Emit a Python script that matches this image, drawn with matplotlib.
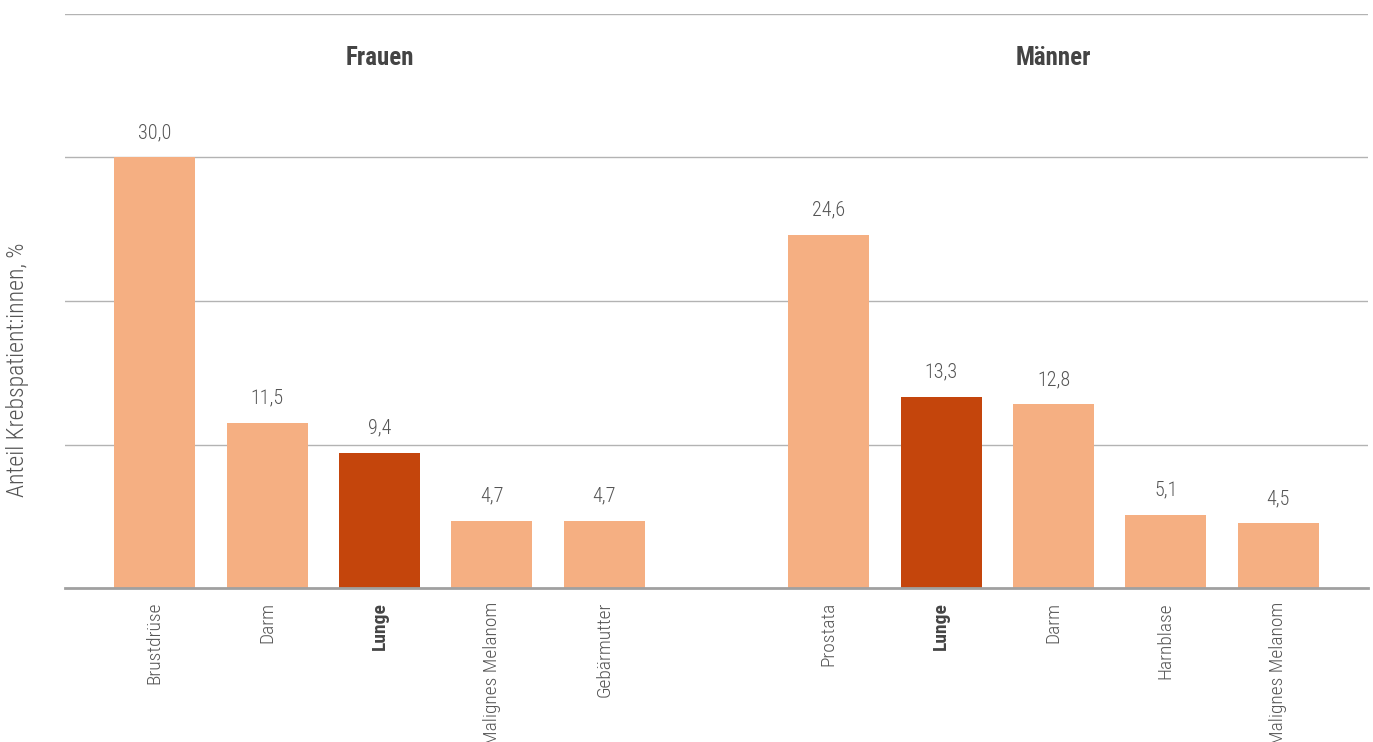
import matplotlib.pyplot as plt
from matplotlib import font_manager

# Daten
frauen_labels = ['Brustdrüse', 'Darm', 'Lunge', 'Malignes Melanom', 'Gebärmutter']
frauen_values = [30.0, 11.5, 9.4, 4.7, 4.7]
maenner_labels = ['Prostata', 'Lunge', 'Darm', 'Harnblase', 'Malignes Melanom']
maenner_values = [24.6, 13.3, 12.8, 5.1, 4.5]
group_titles = ['Frauen', 'Männer']

light = '#F5AF82'
dark = '#C4450C'
text_col = '#555555'

names = {f.name for f in font_manager.fontManager.ttflist}
if 'Roboto Condensed' in names:
    family = ['Roboto Condensed', 'DejaVu Sans']
elif 'Liberation Sans Narrow' in names:
    family = ['Liberation Sans Narrow', 'DejaVu Sans']
else:
    family = ['Roboto', 'DejaVu Sans']
plt.rcParams['font.family'] = family

pos_f = list(range(len(frauen_values)))
pos_m = [p + len(frauen_values) + 1 for p in range(len(maenner_values))]
positions = pos_f + pos_m
values = frauen_values + maenner_values
labels = frauen_labels + maenner_labels
colors = [dark if l == 'Lunge' else light for l in labels]

fig = plt.figure(figsize=(13.73, 7.42), dpi=100)
ax = fig.add_axes([65 / 1373, 154 / 742, 1303 / 1373, 574 / 742])

ax.bar(positions, values, width=0.72, color=colors, zorder=2)

for x, v in zip(positions, values):
    ax.annotate(f'{v:.1f}'.replace('.', ','), (x, v), xytext=(0, 11),
                textcoords='offset points', ha='center', va='bottom',
                fontsize=14.5, color=text_col, fontweight='light')

ax.set_xlim(-0.8, positions[-1] + 0.8)
ax.set_ylim(0, 40)
ax.set_yticks([10, 20, 30, 40])
ax.yaxis.grid(True, color='#b3b3b3', linewidth=1.0, zorder=0)
ax.tick_params(axis='y', length=0, labelleft=False)
ax.tick_params(axis='x', length=0, pad=10)

ax.set_xticks(positions)
ax.set_xticklabels(labels, rotation=90, fontsize=14, color=text_col, va='top')
for t in ax.get_xticklabels():
    if t.get_text() == 'Lunge':
        t.set_fontweight('bold')
        t.set_color('#444444')
    else:
        t.set_fontweight('light')

for s in ['top', 'right', 'left']:
    ax.spines[s].set_visible(False)
ax.spines['bottom'].set_color('#a0a0a0')
ax.spines['bottom'].set_linewidth(2.0)

centers = [sum(pos_f) / len(pos_f), sum(pos_m) / len(pos_m)]
for c, t in zip(centers, group_titles):
    ax.text(c, 36.9, t, ha='center', va='center', fontsize=18,
            fontweight='bold', color='#444444')

fig.text(18 / 1373, 372 / 742, 'Anteil Krebspatient:innen, %', rotation=90,
         ha='center', va='center', fontsize=17, color=text_col,
         fontweight='light')

fig.savefig('out.png', dpi=100)
